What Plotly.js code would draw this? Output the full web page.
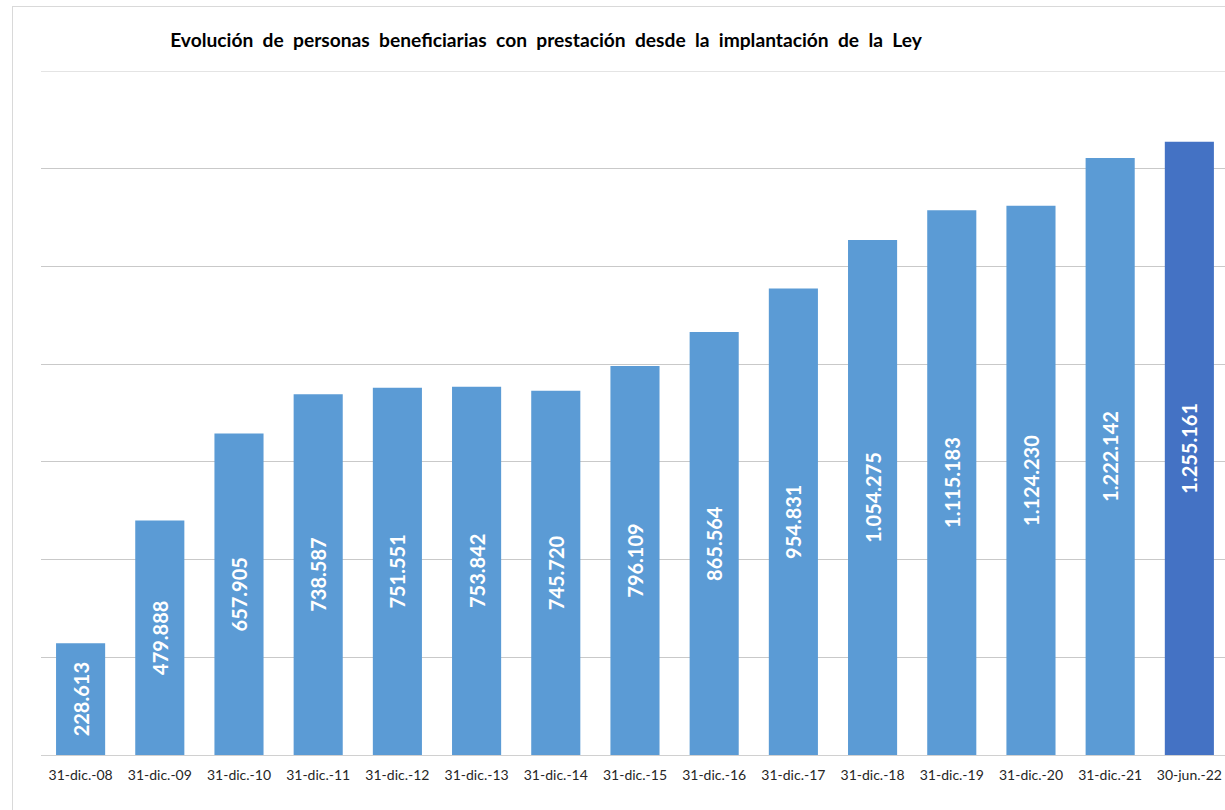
<!DOCTYPE html>
<html>
<head>
<meta charset="utf-8">
<script src="https://cdn.plot.ly/plotly-3.0.1.min.js"></script>
<style>
html,body{margin:0;padding:0;background:#fff;overflow:hidden;}
#frame{position:absolute;left:12px;top:6px;width:1300px;height:900px;border-left:1px solid #d9d9d9;border-top:1px solid #d9d9d9;pointer-events:none;}
#chart{position:absolute;left:0;top:0;width:1225px;height:810px;}
</style>
</head>
<body>
<div id="chart"></div>
<div id="frame"></div>
<script>
const categories = ["31-dic.-08","31-dic.-09","31-dic.-10","31-dic.-11","31-dic.-12","31-dic.-13","31-dic.-14","31-dic.-15","31-dic.-16","31-dic.-17","31-dic.-18","31-dic.-19","31-dic.-20","31-dic.-21","30-jun.-22"];
const values = [228613,479888,657905,738587,751551,753842,745720,796109,865564,954831,1054275,1115183,1124230,1222142,1255161];
const valueLabels = ["228.613","479.888","657.905","738.587","751.551","753.842","745.720","796.109","865.564","954.831","1.054.275","1.115.183","1.124.230","1.222.142","1.255.161"];
const barColors = ["#5B9BD5","#5B9BD5","#5B9BD5","#5B9BD5","#5B9BD5","#5B9BD5","#5B9BD5","#5B9BD5","#5B9BD5","#5B9BD5","#5B9BD5","#5B9BD5","#5B9BD5","#5B9BD5","#4472C4"];
const titleWords = ["Evolución","de","personas","beneficiarias","con","prestación","desde","la","implantación","de","la","Ley"];
const yMax = 1400000;

const trace = {
  type: "bar",
  x: categories,
  y: values,
  text: valueLabels,
  textposition: "inside",
  insidetextanchor: "middle",
  textangle: -90,
  textfont: {family: "Lato, 'Open Sans', sans-serif", size: 20, color: "#ffffff", weight: "bold"},
  marker: {color: barColors, line: {width: 0}},
  hoverinfo: "x+y",
  cliponaxis: false
};

const layout = {
  width: 1225,
  height: 810,
  margin: {l: 41, r: 0, t: 71, b: 55},
  paper_bgcolor: "#ffffff",
  plot_bgcolor: "#ffffff",
  bargap: 0.38,
  showlegend: false,
  title: {
    text: "<b>" + titleWords.join(" &nbsp;") + "</b>",
    font: {family: "Lato, 'Open Sans', sans-serif", size: 19.2, color: "#000000"},
    x: (546 - 41) / 1184, xref: "paper", xanchor: "center",
    y: 1 - 40 / 810, yref: "container", yanchor: "middle"
  },
  xaxis: {
    type: "category",
    range: [-0.5, 14.45],
    showgrid: false,
    showline: false,
    ticks: "",
    tickfont: {family: "Lato, 'Open Sans', sans-serif", size: 14, color: "#262626"},
    ticklabelstandoff: 10,
    fixedrange: true
  },
  yaxis: {
    range: [0, yMax],
    tick0: 0,
    dtick: 200000,
    showticklabels: false,
    showgrid: true,
    gridcolor: "#c9c9c9",
    gridwidth: 1,
    zeroline: true,
    zerolinecolor: "#d0d0d0",
    zerolinewidth: 1,
    showline: false,
    fixedrange: true
  },
  shapes: [{
    type: "line", xref: "paper", yref: "y",
    x0: 0, x1: 1, y0: yMax, y1: yMax,
    line: {color: "#c9c9c9", width: 1},
    layer: "below"
  }]
};

Plotly.newPlot("chart", [trace], layout, {displayModeBar: false, staticPlot: true});
</script>
</body>
</html>
